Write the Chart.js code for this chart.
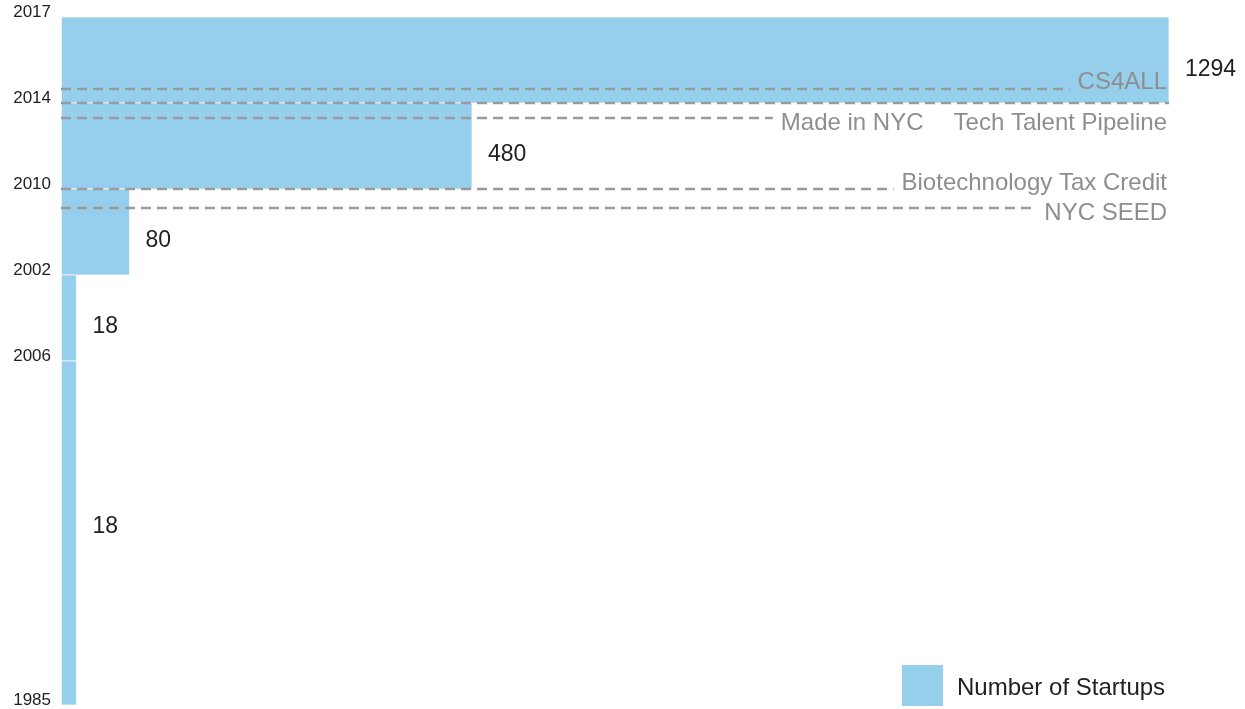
<!DOCTYPE html>
<html>
<head>
<meta charset="utf-8">
<script src="https://cdn.jsdelivr.net/npm/chart.js@4/dist/chart.umd.min.js"></script>
<style>
  html, body { margin: 0; padding: 0; background: #fff; }
  #wrap { width: 1245px; height: 709px; position: relative; }
</style>
</head>
<body>
<div id="wrap"><canvas id="chart"></canvas></div>
<script>
// time axis: tick labels and their position on the axis (bar i spans tick i .. tick i+1)
const tickLabels = ['1985', '2006', '2002', '2010', '2014', '2017'];
const tickPositions = [0, 4, 5, 6, 7, 8];

// number of startups per period
const startups = [18, 18, 80, 480, 1294];

// policy markers (dashed lines)
const policyNames = ['CS4ALL', 'Tech Talent Pipeline', 'Made in NYC', 'Biotechnology Tax Credit', 'NYC SEED'];
const policyPositions = [7.163, 7.0, 6.826, 6.0, 5.779];

const BAR_COLOR = '#96cfeb';
const FONT = "'Liberation Sans', Arial, sans-serif";

// one closed rectangle per period, filled as a shape
const datasets = startups.map((v, i) => {
    const y0 = tickPositions[i];
    const y1 = tickPositions[i + 1];
    return {
        label: 'Number of Startups',
        data: [{x: 0, y: y0}, {x: v, y: y0}, {x: v, y: y1}, {x: 0, y: y1}, {x: 0, y: y0}],
        showLine: true,
        fill: 'shape',
        backgroundColor: BAR_COLOR,
        borderColor: 'rgba(255,255,255,0.7)',
        borderWidth: 1,
        pointRadius: 0,
        tension: 0
    };
});

// label layout for policy lines (styling only)
const policyStyle = {
    'CS4ALL': { dy: -7 },
    'Tech Talent Pipeline': { dy: 20, fullLine: true },
    'Made in NYC': { dy: 5, leftOf: 'Tech Talent Pipeline', gap: 30 },
    'Biotechnology Tax Credit': { dy: -6 },
    'NYC SEED': { dy: 5 }
};
const valueLabelDy = [-6, 9, 9, 9, 10];

const annotations = {
    id: 'annotations',
    afterDatasetsDraw(chart) {
        const ctx = chart.ctx;
        const xs = chart.scales.x, ys = chart.scales.y;
        const area = chart.chartArea;
        ctx.save();
        ctx.font = '24px ' + FONT;
        ctx.textBaseline = 'middle';

        // right edge of each policy label
        const rights = {};
        policyNames.forEach(name => { rights[name] = area.right - 2; });
        policyNames.forEach(name => {
            const st = policyStyle[name];
            if (st.leftOf) {
                const w = ctx.measureText(st.leftOf).width;
                rights[name] = rights[st.leftOf] - w - st.gap;
            }
        });

        policyNames.forEach((name, i) => {
            const st = policyStyle[name];
            const y = Math.round(ys.getPixelForValue(policyPositions[i]));
            const right = rights[name];
            const w = ctx.measureText(name).width;
            const lineEnd = st.fullLine ? area.right : right - w - 8;
            ctx.beginPath();
            ctx.setLineDash([10, 6]);
            ctx.lineWidth = 2.5;
            ctx.strokeStyle = '#9a9a9a';
            ctx.moveTo(xs.getPixelForValue(0), y);
            ctx.lineTo(lineEnd, y);
            ctx.stroke();
            ctx.setLineDash([]);
            ctx.fillStyle = '#8e8e8e';
            ctx.textAlign = 'right';
            ctx.fillText(name, right, y + st.dy);
        });

        // value labels at the end of each bar
        ctx.font = '23px ' + FONT;
        ctx.fillStyle = '#222';
        ctx.textAlign = 'left';
        startups.forEach((v, i) => {
            const mid = ys.getPixelForValue((tickPositions[i] + tickPositions[i + 1]) / 2);
            ctx.fillText(String(v), xs.getPixelForValue(v) + 16, mid + valueLabelDy[i]);
        });
        ctx.restore();
    },
    afterDraw(chart) {
        // legend, bottom right
        const ctx = chart.ctx;
        const area = chart.chartArea;
        ctx.save();
        const bx = area.right - 267, by = area.bottom - 40;
        ctx.fillStyle = BAR_COLOR;
        ctx.fillRect(bx, by, 41, 41);
        ctx.fillStyle = '#222';
        ctx.font = '24px ' + FONT;
        ctx.textBaseline = 'middle';
        ctx.textAlign = 'left';
        ctx.fillText('Number of Startups', bx + 55, by + 23);
        ctx.restore();
    }
};

new Chart(document.getElementById('chart'), {
    type: 'scatter',
    data: { datasets: datasets },
    options: {
        responsive: true,
        maintainAspectRatio: false,
        animation: false,
        layout: { padding: { top: 17, right: 76, bottom: 4, left: 0 } },
        plugins: {
            legend: { display: false },
            tooltip: { enabled: false }
        },
        scales: {
            x: {
                type: 'linear',
                min: 0,
                max: 1294,
                display: false
            },
            y: {
                type: 'linear',
                min: 0,
                max: 8,
                grid: { display: false },
                border: { display: false },
                afterBuildTicks: scale => {
                    scale.ticks = tickPositions.map(v => ({ value: v }));
                },
                afterFit: scale => {
                    scale.width = 61;
                    scale.paddingTop = 0;
                    scale.paddingBottom = 0;
                },
                ticks: {
                    autoSkip: false,
                    padding: 2,
                    labelOffset: -5,
                    color: '#222',
                    font: { family: FONT, size: 17 },
                    callback: value => tickLabels[tickPositions.indexOf(value)]
                }
            }
        }
    },
    plugins: [annotations]
});
</script>
</body>
</html>
